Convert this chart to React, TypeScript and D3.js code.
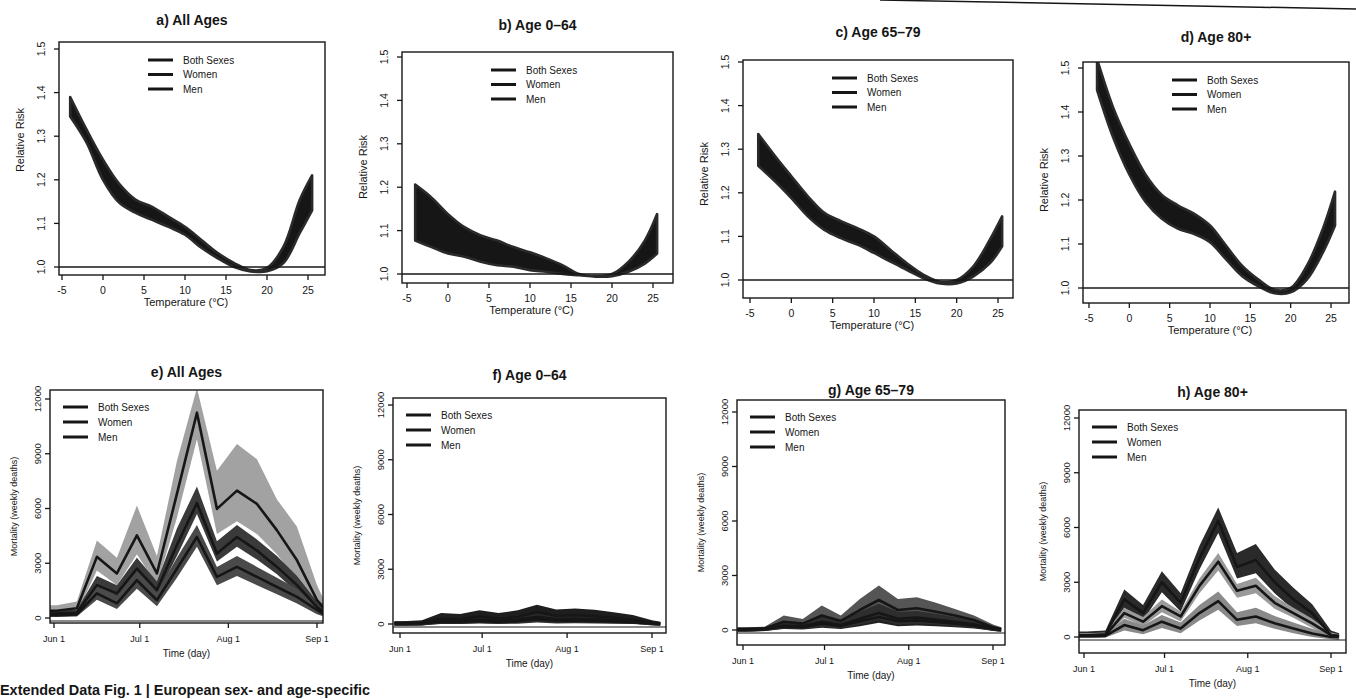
import React from 'react'
import * as d3 from 'd3'

// temperatures (°C) at which the relative-risk bands were read
const temps = [-4, -2, 0, 2, 4, 6, 8, 10, 12, 14, 16, 18, 20, 22, 24, 25.5]

// a) All Ages
const rrLowA = [1.345, 1.285, 1.2, 1.147, 1.124, 1.108, 1.092, 1.074, 1.044, 1.02, 1.0, 0.99, 0.99, 1.009, 1.078, 1.13]
const rrHighA = [1.39, 1.315, 1.246, 1.19, 1.154, 1.138, 1.115, 1.092, 1.062, 1.032, 1.009, 0.993, 0.998, 1.046, 1.154, 1.21]
// b) Age 0-64
const rrLowB = [1.077, 1.062, 1.047, 1.04, 1.028, 1.02, 1.017, 1.009, 1.005, 1.0, 0.997, 0.994, 0.995, 1.005, 1.024, 1.047]
const rrHighB = [1.206, 1.176, 1.138, 1.108, 1.089, 1.077, 1.062, 1.05, 1.036, 1.02, 1.0, 0.995, 1.0, 1.028, 1.077, 1.138]
// c) Age 65-79
const rrLowC = [1.262, 1.227, 1.188, 1.146, 1.115, 1.096, 1.081, 1.062, 1.042, 1.023, 1.004, 0.992, 0.992, 1.008, 1.038, 1.077]
const rrHighC = [1.335, 1.285, 1.238, 1.192, 1.154, 1.135, 1.119, 1.1, 1.069, 1.038, 1.012, 0.996, 1.0, 1.031, 1.092, 1.146]
// d) Age 80+
const rrLowD = [1.45, 1.342, 1.258, 1.196, 1.158, 1.135, 1.123, 1.104, 1.065, 1.027, 1.004, 0.988, 0.99, 1.019, 1.081, 1.142]
const rrHighD = [1.52, 1.41, 1.327, 1.258, 1.212, 1.188, 1.169, 1.142, 1.096, 1.05, 1.019, 0.996, 1.0, 1.05, 1.135, 1.219]

const tempTicks = [-5, 0, 5, 10, 15, 20, 25]
const rrTicks = [1.0, 1.1, 1.2, 1.3, 1.4, 1.5]

// weekly nodes of the mortality curves (summer 2022)
const weekDates = ['2022-05-30', '2022-06-02', '2022-06-09', '2022-06-16', '2022-06-23', '2022-06-30', '2022-07-07', '2022-07-14',
  '2022-07-21', '2022-07-28', '2022-08-04', '2022-08-11', '2022-08-18', '2022-08-25', '2022-09-01', '2022-09-04']
const dateTicks = ['2022-06-01', '2022-07-01', '2022-08-01', '2022-09-01']
const dateTickLabels = ['Jun 1', 'Jul 1', 'Aug 1', 'Sep 1']
const deathTicks = [0, 3000, 6000, 9000, 12000]
const legendLabels = ['Both Sexes', 'Women', 'Men']

// e) All Ages
const bothE = [400, 400, 530, 3350, 2440, 4530, 2440, 6800, 11250, 5980, 6980, 6250, 4800, 3160, 980, 440]
const bothHiE = [700, 700, 900, 4250, 3300, 6160, 3400, 8600, 12600, 8070, 9530, 8700, 6500, 5000, 1800, 800]
const bothLoE = [150, 150, 250, 2600, 1800, 3500, 1800, 5500, 9800, 4600, 5300, 4600, 3500, 2100, 400, 100]
const womenE = [250, 250, 300, 1800, 1350, 2700, 1530, 4000, 6300, 3530, 4440, 3700, 2800, 1800, 600, 250]
const womenHiE = [400, 400, 450, 2300, 1800, 3300, 2000, 4900, 7200, 4200, 5100, 4300, 3400, 2300, 900, 400]
const womenLoE = [100, 100, 150, 1500, 1100, 2200, 1200, 3400, 5700, 3100, 3900, 3200, 2400, 1400, 350, 100]
const menE = [150, 150, 200, 1350, 800, 2070, 980, 2700, 4440, 2250, 2800, 2250, 1700, 1160, 440, 150]
const menHiE = [300, 300, 350, 1800, 1200, 2600, 1400, 3300, 5100, 2800, 3400, 2800, 2200, 1600, 700, 300]
const menLoE = [50, 50, 80, 1000, 500, 1600, 650, 2200, 3900, 1800, 2300, 1800, 1300, 800, 200, 50]

// f) Age 0-64
const bothF = [60, 60, 80, 300, 280, 420, 300, 400, 650, 450, 480, 430, 350, 250, 80, 40]
const bothHiF = [150, 150, 200, 600, 550, 750, 600, 750, 1050, 800, 850, 780, 650, 500, 200, 120]
const bothLoF = [-100, -100, -80, 50, 30, 100, 50, 100, 250, 120, 130, 120, 80, 30, -80, -100]
const womenF = [30, 30, 40, 120, 110, 170, 120, 160, 260, 180, 190, 170, 140, 100, 40, 20]
const womenHiF = [100, 100, 120, 250, 230, 320, 250, 310, 450, 340, 350, 320, 270, 210, 110, 80]
const womenLoF = [-80, -80, -60, 0, 0, 30, 0, 20, 80, 30, 40, 30, 20, 0, -50, -80]
const menF = [40, 40, 50, 180, 170, 250, 180, 240, 390, 270, 290, 260, 210, 150, 50, 25]
const menHiF = [130, 130, 150, 380, 350, 480, 380, 480, 680, 520, 540, 500, 420, 320, 140, 100]
const menLoF = [-100, -100, -80, 20, 10, 60, 20, 50, 150, 70, 80, 70, 40, 10, -60, -90]

// g) Age 65-79
const bothG = [50, 50, 80, 450, 350, 800, 500, 1100, 1650, 1100, 1200, 1000, 800, 550, 150, 50]
const bothHiG = [150, 150, 180, 800, 600, 1350, 800, 1700, 2450, 1700, 1800, 1500, 1150, 800, 300, 150]
const bothLoG = [-100, -100, -60, 150, 100, 300, 150, 500, 900, 500, 600, 500, 350, 200, -50, -100]
const womenG = [20, 20, 40, 200, 150, 350, 220, 480, 720, 480, 520, 440, 350, 240, 60, 20]
const womenHiG = [100, 100, 120, 400, 300, 600, 400, 800, 1100, 780, 820, 720, 580, 420, 150, 80]
const womenLoG = [-80, -80, -50, 50, 30, 120, 50, 200, 400, 200, 250, 200, 150, 80, -40, -80]
const menG = [30, 30, 50, 250, 200, 450, 280, 620, 930, 620, 680, 560, 450, 310, 90, 30]
const menHiG = [120, 120, 150, 500, 400, 800, 500, 1000, 1450, 1000, 1050, 900, 720, 520, 200, 100]
const menLoG = [-90, -90, -60, 80, 50, 180, 80, 300, 550, 300, 350, 300, 220, 120, -40, -90]

// h) Age 80+
const bothH = [100, 100, 150, 2060, 1310, 3000, 1875, 4310, 6375, 3840, 4220, 3000, 2060, 1310, 100, 50]
const bothHiH = [300, 300, 350, 2600, 1750, 3600, 2400, 5000, 7100, 4600, 5100, 3700, 2700, 1800, 350, 200]
const bothLoH = [-50, -50, 0, 1600, 900, 2450, 1400, 3700, 5700, 3200, 3500, 2400, 1500, 900, -100, -150]
const womenH = [80, 80, 100, 1310, 840, 1690, 1125, 2800, 4125, 2530, 2810, 1875, 1310, 750, 100, 50]
const womenHiH = [200, 200, 250, 1600, 1100, 2050, 1400, 3200, 4600, 2900, 3250, 2250, 1600, 1000, 250, 150]
const womenLoH = [-30, -30, 0, 1050, 600, 1350, 850, 2400, 3650, 2150, 2400, 1550, 1050, 500, -20, -50]
const menH = [50, 50, 60, 656, 375, 840, 470, 1310, 1970, 940, 1125, 750, 470, 190, 0, 0]
const menHiH = [150, 150, 180, 1000, 650, 1200, 800, 1750, 2500, 1350, 1600, 1150, 800, 450, 150, 100]
const menLoH = [-50, -50, -30, 350, 150, 500, 200, 900, 1500, 600, 750, 450, 200, 0, -120, -150]

const FONT = '"Liberation Sans", Arial, sans-serif'
const INK = '#161616'
const parse = d3.utcParse('%Y-%m-%d')

// panel geometry (it is slightly tilted, so each panel has its own)
const rrPanels = [
  { id: 'a', title: 'a) All Ages', low: rrLowA, high: rrHighA, box: [59, 325, 42, 275], xAt: [62, 308], yAt: [267, 49], titleY: 20, ylabY: 140 },
  { id: 'b', title: 'b) Age 0\u201364', low: rrLowB, high: rrHighB, box: [402, 673, 52, 283], xAt: [407, 653], yAt: [274, 57], titleY: 25, ylabY: 167 },
  { id: 'c', title: 'c) Age 65\u201379', low: rrLowC, high: rrHighC, box: [743, 1013, 60, 298], xAt: [750, 998], yAt: [280, 62], titleY: 32, ylabY: 174 },
  { id: 'd', title: 'd) Age 80+', low: rrLowD, high: rrHighD, box: [1083, 1349, 62, 303], xAt: [1089, 1331], yAt: [288, 68], titleY: 37, ylabY: 180 },
]

const mortPanels = [
  { id: 'e', title: 'e) All Ages', box: [50, 323, 390, 623], xAt: [54, 317], yAt: [618, 399], titleY: 372,
    series: [[bothLoE, bothE, bothHiE, '#a2a2a2'], [womenLoE, womenE, womenHiE, '#3a3a3a'], [menLoE, menE, menHiE, '#4a4a4a']] },
  { id: 'f', title: 'f) Age 0\u201364', box: [393, 666, 398, 633], xAt: [400, 652], yAt: [624, 405], titleY: 375,
    series: [[bothLoF, bothF, bothHiF, '#1e1e1e'], [womenLoF, womenF, womenHiF, '#333'], [menLoF, menF, menHiF, '#2a2a2a']] },
  { id: 'g', title: 'g) Age 65\u201379', box: [737, 1005, 400, 645], xAt: [743, 993], yAt: [630, 412], titleY: 390,
    series: [[bothLoG, bothG, bothHiG, '#555'], [womenLoG, womenG, womenHiG, '#222'], [menLoG, menG, menHiG, '#2e2e2e']] },
  { id: 'h', title: 'h) Age 80+', box: [1079, 1346, 410, 653], xAt: [1084, 1331], yAt: [637, 418], titleY: 392,
    series: [[bothLoH, bothH, bothHiH, '#2a2a2a'], [womenLoH, womenH, womenHiH, '#9a9a9a'], [menLoH, menH, menHiH, '#8a8a8a']] },
]

function Legend({ x, y, step }: { x: number; y: number; step: number }) {
  return (
    <g>
      {legendLabels.map((l, i) => (
        <g key={l}>
          <line x1={x} x2={x + 25} y1={y + i * step} y2={y + i * step} stroke={INK} strokeWidth={3} />
          <text x={x + 35} y={y + i * step + 3.5} fontSize={10} fontFamily={FONT} fill={INK}>{l}</text>
        </g>
      ))}
    </g>
  )
}

function RRPanel({ p }: { p: any }) {
  const [x0, x1, y0, y1] = p.box
  const x = d3.scaleLinear().domain([-5, 25]).range(p.xAt)
  const y = d3.scaleLinear().domain([1, 1.5]).range(p.yAt)
  const band = d3.area<number>()
    .x((_, i) => x(temps[i]))
    .y0((_, i) => y(p.low[i]))
    .y1((_, i) => y(p.high[i]))
    .curve(d3.curveCatmullRom)
  return (
    <g>
      <clipPath id={'clip' + p.id}><rect x={x0} y={y0} width={x1 - x0} height={y1 - y0} /></clipPath>
      <text x={(x0 + x1) / 2} y={p.titleY + 5} textAnchor="middle" fontSize={14} fontWeight="bold" fontFamily={FONT} fill={INK}>{p.title}</text>
      <g clipPath={`url(#clip${p.id})`}>
        <path d={band(temps) || ''} fill={INK} stroke="#2a2a2a" strokeWidth={2.6} strokeLinejoin="round" />
        <line x1={x0} x2={x1} y1={y(1)} y2={y(1)} stroke={INK} strokeWidth={1.3} />
      </g>
      <rect x={x0} y={y0} width={x1 - x0} height={y1 - y0} fill="none" stroke={INK} strokeWidth={1.4} />
      {tempTicks.map(t => (
        <g key={t}>
          <line x1={x(t)} x2={x(t)} y1={y1} y2={y1 + 5} stroke={INK} strokeWidth={1.3} />
          <text x={x(t)} y={y1 + 19} textAnchor="middle" fontSize={10.5} fontFamily={FONT} fill={INK}>{t}</text>
        </g>
      ))}
      {rrTicks.map(t => (
        <g key={t}>
          <line x1={x0} x2={x0 - 5} y1={y(t)} y2={y(t)} stroke={INK} strokeWidth={1.3} />
          <text transform={`translate(${x0 - 14},${y(t)}) rotate(-90)`} textAnchor="middle" fontSize={10.5} fontFamily={FONT} fill={INK}>{t.toFixed(1)}</text>
        </g>
      ))}
      <text x={(x0 + x1) / 2 - 6} y={y1 + 31} textAnchor="middle" fontSize={11} fontFamily={FONT} fill={INK}>Temperature (°C)</text>
      <text transform={`translate(${x0 - 35},${p.ylabY}) rotate(-90)`} textAnchor="middle" fontSize={11} fontFamily={FONT} fill={INK}>Relative Risk</text>
      <Legend x={x0 + 89} y={y0 + 18} step={14.5} />
    </g>
  )
}

function MortPanel({ p }: { p: any }) {
  const [x0, x1, y0, y1] = p.box
  const dates = weekDates.map(d => parse(d) as Date)
  const x = d3.scaleUtc().domain([parse('2022-06-01') as Date, parse('2022-09-01') as Date]).range(p.xAt)
  const y = d3.scaleLinear().domain([0, 12000]).range(p.yAt)
  const line = d3.line<number>().x((_, i) => x(dates[i])).y(v => y(v))
  return (
    <g>
      <clipPath id={'clip' + p.id}><rect x={x0} y={y0} width={x1 - x0} height={y1 - y0} /></clipPath>
      <text x={(x0 + x1) / 2} y={p.titleY + 5} textAnchor="middle" fontSize={14} fontWeight="bold" fontFamily={FONT} fill={INK}>{p.title}</text>
      <g clipPath={`url(#clip${p.id})`}>
        {p.series.map((s: any, k: number) => {
          const [lo, , hi, fill] = s
          const band = d3.area<number>().x((_, i) => x(dates[i])).y0((_, i) => y(lo[i])).y1((_, i) => y(hi[i]))
          return <path key={k} d={band(lo) || ''} fill={fill} />
        })}
        {p.series.map((s: any, k: number) => (
          <path key={k} d={line(s[1]) || ''} fill="none" stroke={INK} strokeWidth={2.6} strokeLinejoin="round" />
        ))}
        <line x1={x0} x2={x1} y1={y(0) + 3} y2={y(0) + 3} stroke={INK} strokeWidth={1.2} />
      </g>
      <rect x={x0} y={y0} width={x1 - x0} height={y1 - y0} fill="none" stroke={INK} strokeWidth={1.4} />
      {dateTicks.map((d, i) => {
        const px = x(parse(d) as Date)
        return (
          <g key={d}>
            <line x1={px} x2={px} y1={y1} y2={y1 + 5} stroke={INK} strokeWidth={1.3} />
            <text x={px} y={y1 + 19} textAnchor="middle" fontSize={9} fontFamily={FONT} fill={INK}>{dateTickLabels[i]}</text>
          </g>
        )
      })}
      {deathTicks.map(t => (
        <g key={t}>
          <line x1={x0} x2={x0 - 5} y1={y(t)} y2={y(t)} stroke={INK} strokeWidth={1.3} />
          <text transform={`translate(${x0 - 9},${y(t)}) rotate(-90)`} textAnchor="middle" fontSize={9.5} fontFamily={FONT} fill={INK}>{t}</text>
        </g>
      ))}
      <text x={(x0 + x1) / 2} y={y1 + 34} textAnchor="middle" fontSize={10} fontFamily={FONT} fill={INK}>Time (day)</text>
      <text transform={`translate(${x0 - 33},${(y0 + y1) / 2}) rotate(-90)`} textAnchor="middle" fontSize={9} fontFamily={FONT} fill={INK}>Mortality (weekly deaths)</text>
      <Legend x={x0 + 13} y={y0 + 17} step={15} />
    </g>
  )
}

export default function App() {
  return (
    <svg width={1356} height={699} style={{ position: 'absolute', left: 0, top: 0, background: '#fff' }}>
      <rect width={1356} height={699} fill="#fff" />
      <line x1={880} y1={0} x2={1356} y2={9} stroke={INK} strokeWidth={1.5} />
      {rrPanels.map(p => <RRPanel key={p.id} p={p} />)}
      {mortPanels.map(p => <MortPanel key={p.id} p={p} />)}
      <text x={0} y={695} fontSize={15} fontWeight="bold" fontFamily={'"Liberation Sans Narrow", "Liberation Sans", Arial, sans-serif'}
        fill={INK} textLength={370} lengthAdjust="spacingAndGlyphs">Extended Data Fig. 1 | European sex- and age-specific</text>
    </svg>
  )
}
